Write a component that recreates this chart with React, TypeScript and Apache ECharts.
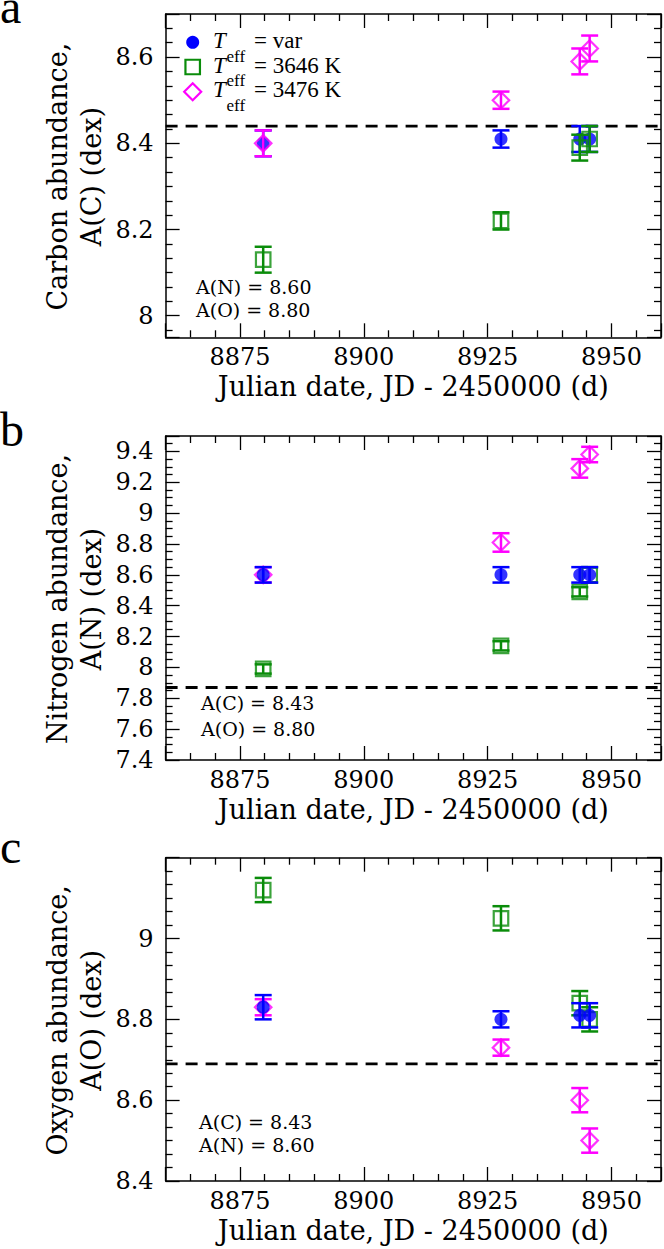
import React, { useEffect, useRef } from "react";
import * as echarts from "echarts";

// ---------------- data ----------------
const X_MIN = 8860;
const X_MAX = 8960;
const xTickLabels = ["8875", "8900", "8925", "8950"];
const dates = [8879.7, 8927.7, 8943.6, 8945.6];
const seriesNames = ["Teff = var", "Teff = 3646 K", "Teff = 3476 K"];
const legendTail = ["= var", "= 3646 K", "= 3476 K"];

// Carbon (panel a)
const carbonVar = [8.4, 8.41, 8.41, 8.41];
const carbonVarErr = [0.03, 0.02, 0.03, 0.03];
const carbon3646 = [8.13, 8.22, 8.39, 8.41];
const carbon3646Err = [0.03, 0.02, 0.03, 0.03];
const carbon3476 = [8.4, 8.5, 8.59, 8.62];
const carbon3476Err = [0.03, 0.02, 0.03, 0.03];
const carbonRef = 8.44;
const carbonYTicks = ["8", "8.2", "8.4", "8.6"];

// Nitrogen (panel b)
const nitrogenVar = [8.6, 8.6, 8.6, 8.6];
const nitrogenVarErr = [0.05, 0.05, 0.05, 0.05];
const nitrogen3646 = [7.99, 8.14, 8.49, 8.6];
const nitrogen3646Err = [0.03, 0.03, 0.03, 0.05];
const nitrogen3476 = [8.6, 8.81, 9.29, 9.38];
const nitrogen3476Err = [0.05, 0.06, 0.06, 0.05];
const nitrogenRef = 7.87;
const nitrogenYTicks = ["7.4", "7.6", "7.8", "8", "8.2", "8.4", "8.6", "8.8", "9", "9.2", "9.4"];

// Oxygen (panel c)
const oxygenVar = [8.83, 8.8, 8.81, 8.81];
const oxygenVarErr = [0.03, 0.02, 0.03, 0.03];
const oxygen3646 = [9.12, 9.05, 8.84, 8.8];
const oxygen3646Err = [0.03, 0.03, 0.03, 0.03];
const oxygen3476 = [8.83, 8.73, 8.6, 8.5];
const oxygen3476Err = [0.02, 0.02, 0.03, 0.03];
const oxygenRef = 8.69;
const oxygenYTicks = ["8.4", "8.6", "8.8", "9"];

// ---------------- layout / style ----------------
const FONT = "Liberation Serif";
const AXIS_FONT = "DejaVu Serif";
const COLORS = ["#0000ff", "#0a8c0a", "#ff00ff"];
const GRID_LEFT = 165.6;
const GRID_WIDTH = 497.4;
const LEGEND = { iconX: 192.7, firstY: 42.3, pitch: 24.7, tX: 213, sX: 226.5, rX: 254 };

const panels = [
  {
    letter: "a", letterY: 6, top: 14, height: 323.3, yMin: 7.95, yMax: 8.7, minor: 6,
    yTicks: carbonYTicks,
    title: "Carbon abundance,\nA(C) (dex)",
    sets: [[carbonVar, carbonVarErr], [carbon3646, carbon3646Err], [carbon3476, carbon3476Err]],
    order: [0, 1, 2], ref: carbonRef,
    notes: ["A(N) = 8.60", "A(O) = 8.80"], noteX: 196, noteY: [287.3, 310.3],
  },
  {
    letter: "b", letterY: 429, top: 436, height: 324, yMin: 7.4, yMax: 9.5, minor: 4,
    yTicks: nitrogenYTicks,
    title: "Nitrogen abundance,\nA(N) (dex)",
    sets: [[nitrogenVar, nitrogenVarErr], [nitrogen3646, nitrogen3646Err], [nitrogen3476, nitrogen3476Err]],
    order: [1, 2, 0], ref: nitrogenRef,
    notes: ["A(C) = 8.43", "A(O) = 8.80"], noteX: 201, noteY: [703, 729],
  },
  {
    letter: "c", letterY: 846, top: 857.7, height: 323.3, yMin: 8.4, yMax: 9.2, minor: 6,
    yTicks: oxygenYTicks,
    title: "Oxygen abundance,\nA(O) (dex)",
    sets: [[oxygenVar, oxygenVarErr], [oxygen3646, oxygen3646Err], [oxygen3476, oxygen3476Err]],
    order: [1, 2, 0], ref: oxygenRef,
    notes: ["A(C) = 8.43", "A(N) = 8.60"], noteX: 199, noteY: [1121.7, 1144.7],
  },
];

const fmtNum = (v: number) => String(parseFloat(v.toFixed(2)));

const axisBase = (minorSplit: number) => ({
  type: "value" as const,
  axisLine: { show: true, onZero: false, lineStyle: { color: "#000", width: 1.5 } },
  axisTick: { show: true, inside: true, length: 14, lineStyle: { color: "#000", width: 1.3 } },
  minorTick: { show: true, splitNumber: minorSplit, length: 7, lineStyle: { color: "#000", width: 1.3 } },
  splitLine: { show: false },
});

function legendGraphics() {
  const out: any[] = [];
  seriesNames.forEach((_name, i) => {
    const cy = LEGEND.firstY + LEGEND.pitch * i;
    const cx = LEGEND.iconX;
    const color = COLORS[i];
    if (i === 0) {
      out.push({ type: "circle", shape: { cx, cy, r: 6.5 }, style: { fill: color }, silent: true });
    } else if (i === 1) {
      out.push({
        type: "rect", shape: { x: cx - 7.25, y: cy - 7.25, width: 14.5, height: 14.5 },
        style: { fill: "none", stroke: color, lineWidth: 2.2 }, silent: true,
      });
    } else {
      const h = 8.5;
      out.push({
        type: "polygon", shape: { points: [[cx, cy - h], [cx + h, cy], [cx, cy + h], [cx - h, cy]] },
        style: { fill: "none", stroke: color, lineWidth: 2.2 }, silent: true,
      });
    }
    const ty = cy - 1.8;
    out.push({
      type: "text", x: LEGEND.tX, y: ty, silent: true,
      style: { text: "T", fontFamily: FONT, fontSize: 23, fontStyle: "italic", lineHeight: 18, align: "left", verticalAlign: "middle", fill: "#000" },
    });
    out.push({
      type: "text", x: LEGEND.sX, y: ty + 15.5, silent: true,
      style: { text: "eff", fontFamily: FONT, fontSize: 17, lineHeight: 13, align: "left", verticalAlign: "middle", fill: "#000" },
    });
    out.push({
      type: "text", x: LEGEND.rX, y: ty, silent: true,
      style: { text: legendTail[i], fontFamily: FONT, fontSize: 23, lineHeight: 18, align: "left", verticalAlign: "middle", fill: "#000" },
    });
  });
  return out;
}

function buildOption() {
  const grid: any[] = [];
  const xAxis: any[] = [];
  const yAxis: any[] = [];
  const series: any[] = [];
  const graphic: any[] = [];

  panels.forEach((p, pi) => {
    grid.push({ left: GRID_LEFT, top: p.top, width: GRID_WIDTH, height: p.height });
    const xCommon = {
      ...axisBase(5), gridIndex: pi, min: X_MIN, max: X_MAX,
      minInterval: 25, maxInterval: 25, splitNumber: 4,
    };
    xAxis.push({
      ...xCommon, position: "bottom",
      axisLabel: {
        show: true, color: "#000", fontFamily: AXIS_FONT, fontSize: 24, margin: 8,
        formatter: (v: number) => {
          const s = String(Math.round(v));
          return xTickLabels.includes(s) ? s : "";
        },
      },
      name: "Julian date, JD - 2450000 (d)",
      nameLocation: "middle", nameGap: 36,
      nameTextStyle: { color: "#000", fontFamily: AXIS_FONT, fontSize: 27 },
    });
    xAxis.push({ ...xCommon, position: "top", axisLabel: { show: false } });

    const yCommon = {
      ...axisBase(p.minor), gridIndex: pi, min: p.yMin, max: p.yMax,
      minInterval: 0.2, maxInterval: 0.2, splitNumber: 4,
    };
    yAxis.push({
      ...yCommon, position: "left",
      axisLabel: {
        show: true, color: "#000", fontFamily: AXIS_FONT, fontSize: 24, margin: 12,
        formatter: (v: number) => {
          const s = fmtNum(v);
          return p.yTicks.includes(s) ? s : "";
        },
      },
    });
    yAxis.push({ ...yCommon, position: "right", axisLabel: { show: false } });

    // reference dashed line
    series.push({
      type: "line", xAxisIndex: 2 * pi, yAxisIndex: 2 * pi, z: 1, silent: true,
      symbol: "none",
      data: [[X_MIN, p.ref], [X_MAX, p.ref]],
      lineStyle: { color: "#000", width: 2.8, type: [12, 8] },
    });

    p.order.forEach((si, k) => {
      const [vals, errs] = p.sets[si];
      const color = COLORS[si];
      series.push({
        type: "custom", xAxisIndex: 2 * pi, yAxisIndex: 2 * pi, z: 3 + 2 * k, silent: true,
        data: dates.map((d, i) => [d, vals[i] - errs[i], vals[i] + errs[i]]),
        encode: { x: 0, y: [1, 2] },
        renderItem: (_params: any, api: any) => {
          const x = api.value(0);
          const lo = api.coord([x, api.value(1)]);
          const hi = api.coord([x, api.value(2)]);
          const hw = 8.5;
          const st = { stroke: color, lineWidth: 2.5, fill: "none" };
          return {
            type: "group",
            children: [
              { type: "line", shape: { x1: lo[0], y1: lo[1], x2: hi[0], y2: hi[1] }, style: st },
              { type: "line", shape: { x1: hi[0] - hw, y1: hi[1], x2: hi[0] + hw, y2: hi[1] }, style: st },
              { type: "line", shape: { x1: lo[0] - hw, y1: lo[1], x2: lo[0] + hw, y2: lo[1] }, style: st },
            ],
          };
        },
      });
      const sym = si === 0 ? "circle" : si === 1 ? "rect" : "diamond";
      const size = si === 0 ? 13 : si === 1 ? 14.5 : 16.5;
      series.push({
        type: "scatter", name: seriesNames[si], xAxisIndex: 2 * pi, yAxisIndex: 2 * pi,
        z: 4 + 2 * k, silent: true,
        symbol: sym, symbolSize: size,
        data: dates.map((d, i) => [d, vals[i]]),
        itemStyle: si === 0
          ? { color }
          : { color: "rgba(0,0,0,0)", borderColor: color, borderWidth: 2.2 },
      });
    });

    const centerY = p.top + p.height / 2 + 1;
    graphic.push({
      type: "text", x: 74.5, y: centerY, rotation: Math.PI / 2, silent: true,
      style: {
        text: p.title, fontFamily: AXIS_FONT, fontSize: 27, lineHeight: 34,
        align: "center", verticalAlign: "middle", fill: "#000",
      },
    });
    graphic.push({
      type: "text", x: 0, y: p.letterY, silent: true,
      style: {
        text: p.letter, fontFamily: FONT, fontSize: 48, lineHeight: 12,
        align: "left", verticalAlign: "middle", fill: "#000",
      },
    });
    p.notes.forEach((t, i) => {
      graphic.push({
        type: "text", x: p.noteX, y: p.noteY[i], silent: true,
        style: {
          text: t, fontFamily: AXIS_FONT, fontSize: 19, lineHeight: 20,
          align: "left", verticalAlign: "middle", fill: "#000",
        },
      });
    });
  });

  graphic.push(...legendGraphics());

  return {
    animation: false,
    backgroundColor: "#fff",
    grid, xAxis, yAxis, series, graphic,
  };
}

export default function App() {
  const ref = useRef<HTMLDivElement>(null);
  useEffect(() => {
    if (!ref.current) return;
    const chart = echarts.init(ref.current, undefined, { renderer: "svg" });
    chart.setOption(buildOption() as any);
    return () => chart.dispose();
  }, []);
  return (
    <div
      ref={ref}
      style={{ position: "fixed", left: 0, top: 0, width: 664, height: 1249, background: "#fff" }}
    />
  );
}
